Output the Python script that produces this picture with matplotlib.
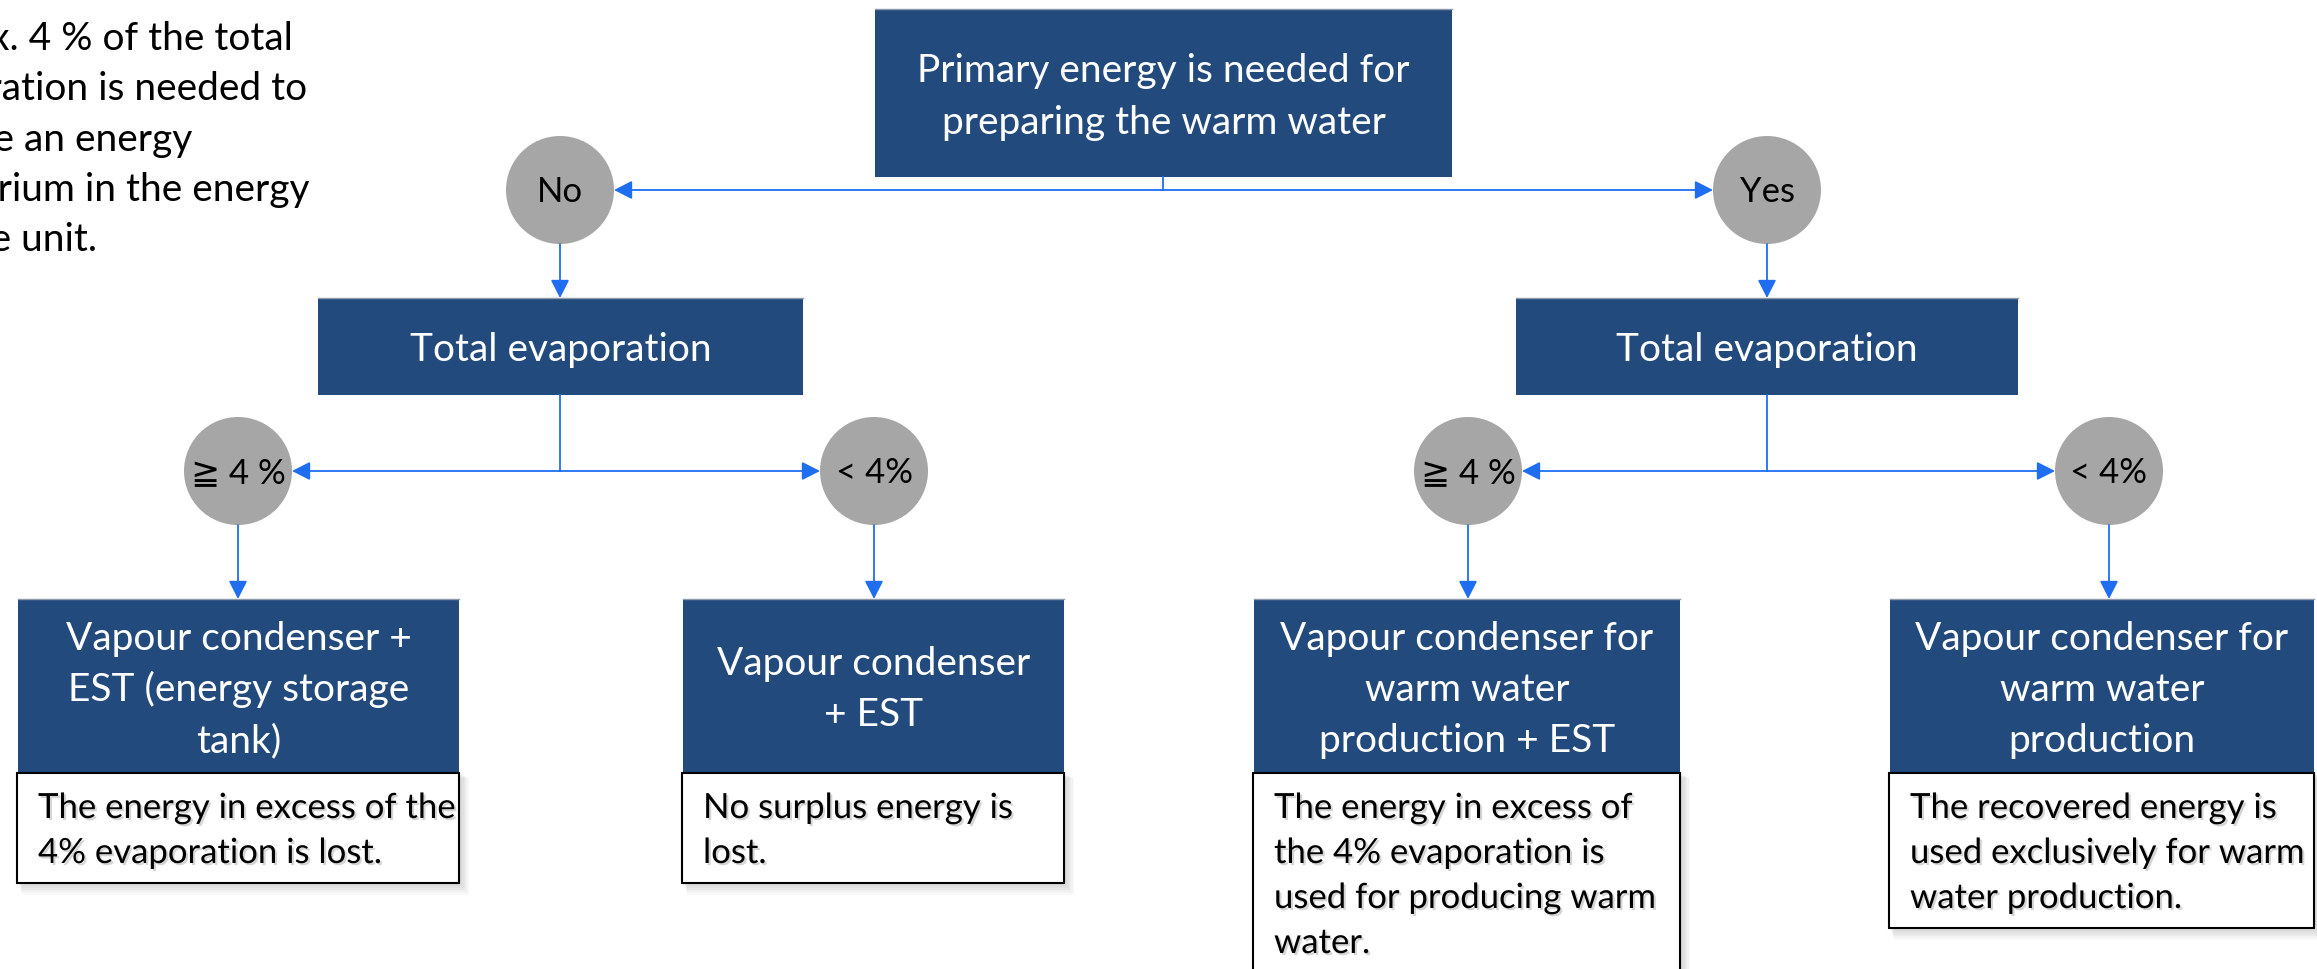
import matplotlib
matplotlib.use('Agg')
import matplotlib.pyplot as plt
import matplotlib.patheffects as pe
from matplotlib.patches import Rectangle, Ellipse

# ---- text content ----
side_note = ["Approx. 4 % of the total", "evaporation is needed to", "achieve an energy",
             "equilibrium in the energy", "storage unit."]
root_text = ["Primary energy is needed for", "preparing the warm water"]
branch_labels = ["No", "Yes"]
branch_titles = ["Total evaporation", "Total evaporation"]
split_labels = ["\u2267 4 %", "< 4%", "\u2267 4 %", "< 4%"]
result_titles = [
    ["Vapour condenser +", "EST (energy storage", "tank)"],
    ["Vapour condenser", "+ EST"],
    ["Vapour condenser for", "warm water", "production + EST"],
    ["Vapour condenser for", "warm water", "production"],
]
result_notes = [
    ["The energy in excess of the", "4% evaporation is lost."],
    ["No surplus energy is", "lost."],
    ["The energy in excess of", "the 4% evaporation is", "used for producing warm", "water."],
    ["The recovered energy is", "used exclusively for warm", "water production."],
]

# ---- layout (pixels, y down) ----
W, H = 2317, 969
root_box = (875, 9, 1452, 177)
root_stem_x = 1163
bus_y = [190, 471]
branch_cx = [560, 1767]
branch_box_x = [(318, 803), (1516, 2018)]
branch_box_y = (298, 395)
split_cx = [238, 874, 1468, 2109]
R = 54
result_x = [(18, 459), (683, 1064), (1254, 1680), (1890, 2314)]
result_y = (599, 773)
note_bottom = [883, 883, 1010, 928]

DARK = '#224A7C'
GREY = '#A6A6A6'
BLUE = '#1F6EF0'
FS_T = 28    # box titles and side note (pt)
FS_N = 25    # note boxes
FS_C = 25    # circle labels

plt.rcParams['font.family'] = ['Lato', 'DejaVu Sans']

fig = plt.figure(figsize=(W / 100, H / 100), dpi=100)
ax = fig.add_axes([0, 0, 1, 1])
ax.set_xlim(0, W)
ax.set_ylim(H, 0)
ax.axis('off')


def dark_box(x0, y0, x1, y1):
    ax.add_patch(Rectangle((x0, y0), x1 - x0, y1 - y0, facecolor=DARK, edgecolor='none', zorder=2))
    ax.plot([x0, x1], [y0, y0], color='#8E9AAB', lw=1, zorder=3)


def arrow(x0, y0, x1, y1):
    ax.annotate('', xy=(x1, y1), xytext=(x0, y0), zorder=4,
                arrowprops=dict(arrowstyle='-|>,head_length=0.55,head_width=0.28',
                                mutation_scale=20, color=BLUE, lw=1.3,
                                shrinkA=0, shrinkB=0))


def circle(cx, cy, label):
    ax.add_patch(Ellipse((cx, cy), 2 * R, 2 * R, facecolor=GREY, edgecolor='none', zorder=2))
    ax.text(cx, cy + 12, label, ha='center', va='baseline', fontsize=FS_C, color='black', zorder=5)


def text_lines(lines, x, y0, dy, size, ha='center', color='white', shadow=False):
    for i, s in enumerate(lines):
        t = ax.text(x, y0 + i * dy, s, ha=ha, va='baseline', fontsize=size, color=color, zorder=5)
        if shadow:
            t.set_path_effects([pe.withSimplePatchShadow(offset=(1.5, -1.5), shadow_rgbFace='#777777',
                                                         alpha=0.3)])


# root box
x0, y0, x1, y1 = root_box
dark_box(x0, y0, x1, y1)
text_lines(root_text, (x0 + x1) / 2, 82, 52, FS_T)
ax.plot([root_stem_x, root_stem_x], [y1, bus_y[0]], color=BLUE, lw=1.3, zorder=3)

# yes / no branches
for k in range(2):
    cx = branch_cx[k]
    edge = cx + R if cx < root_stem_x else cx - R
    arrow(root_stem_x, bus_y[0], edge, bus_y[0])
    circle(cx, bus_y[0], branch_labels[k])
    arrow(cx, bus_y[0] + R, cx, branch_box_y[0])
    bx0, bx1 = branch_box_x[k]
    dark_box(bx0, branch_box_y[0], bx1, branch_box_y[1])
    ax.text((bx0 + bx1) / 2, 361, branch_titles[k], ha='center', va='baseline',
            fontsize=FS_T, color='white', zorder=5)
    ax.plot([cx, cx], [branch_box_y[1], bus_y[1]], color=BLUE, lw=1.3, zorder=3)
    for j in range(2):
        sx = split_cx[2 * k + j]
        edge = sx + R if sx < cx else sx - R
        arrow(cx, bus_y[1], edge, bus_y[1])

# threshold circles and result boxes
for i in range(4):
    sx = split_cx[i]
    circle(sx, bus_y[1], split_labels[i])
    arrow(sx, bus_y[1] + R, sx, result_y[0])
    rx0, rx1 = result_x[i]
    dark_box(rx0, result_y[0], rx1, result_y[1])
    lines = result_titles[i]
    if len(lines) == 3:
        text_lines(lines, (rx0 + rx1) / 2, 650, 51, FS_T)
    else:
        text_lines(lines, (rx0 + rx1) / 2, 675, 51, FS_T)

    # note box with soft drop shadow
    nb = note_bottom[i]
    for s in range(1, 9):
        ax.add_patch(Rectangle((rx0 - 1 + s * 0.6, result_y[1] - 2 + s * 0.9),
                               rx1 - rx0 + s * 0.8, nb - result_y[1] + s * 0.8,
                               facecolor='black', edgecolor='none', alpha=0.025, zorder=1))
    ax.add_patch(Rectangle((rx0 - 1, result_y[1]), rx1 - rx0 + 1, nb - result_y[1],
                           facecolor='white', edgecolor='black', lw=1.5, zorder=2))
    text_lines(result_notes[i], rx0 + 20, result_y[1] + 45, 45, FS_N, ha='left', color='black',
               shadow=True)

# side note, clipped at the left edge of the page as in the source slide
renderer = fig.canvas.get_renderer()
probe = ax.text(0, 0, "evapor", fontsize=FS_T)
w_prefix = probe.get_window_extent(renderer).width
probe.remove()
text_lines(side_note, -w_prefix + 2, 50, 50.3, FS_T, ha='left', color='black')

fig.savefig('out.png', dpi=100)
